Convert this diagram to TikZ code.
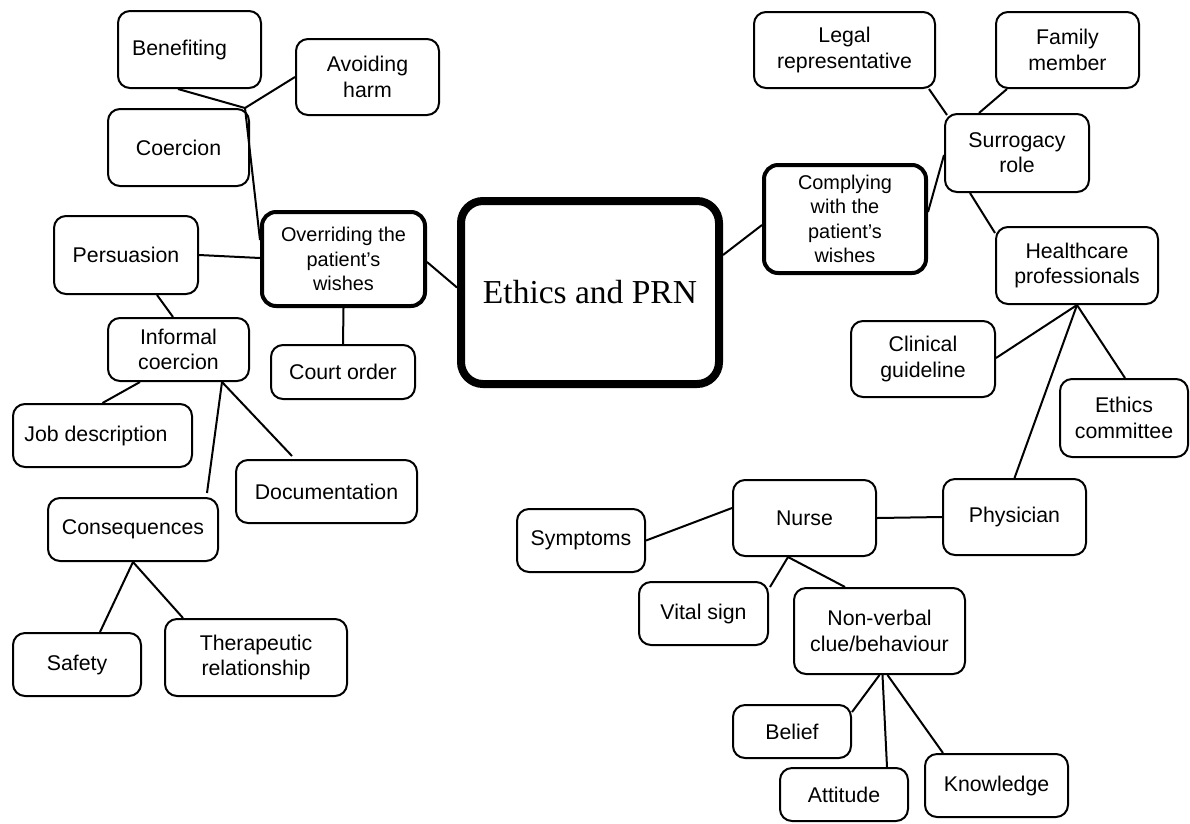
\documentclass[tikz,border=0pt]{standalone}
\usepackage{fontspec}
\setmainfont{Liberation Sans}
\newfontfamily\serifrm{Liberation Serif}
\usetikzlibrary{calc}
\begin{document}
\begin{tikzpicture}[x=1pt,y=-1pt,
  box/.style={draw, line width=2pt, rounded corners=12pt, align=center, inner sep=0pt,
    font=\fontsize{21.3}{25.3}\selectfont},
  boldbox/.style={box, line width=4pt, rounded corners=14pt, font=\fontsize{19.9}{24.3}\selectfont},
  hubbox/.style={draw, line width=8pt, rounded corners=22pt, align=center, inner sep=0pt,
    font=\serifrm\fontsize{33.5}{38}\selectfont},
  link/.style={line width=2pt}]
\useasboundingbox (0,0) rectangle (1190,823);
\fill[white] (0,0) rectangle (1190,823);

% ---- centre
\node[hubbox, minimum width=258pt, minimum height=183pt] (ethics) at (590,292.5) {Ethics and PRN};

% ---- left branch
\node[boldbox, minimum width=163pt, minimum height=94pt] (overr) at (343.5,259) {Overriding the\\patient's\\wishes};
\node[box, minimum width=143pt, minimum height=77pt] (benef) at (189.5,49.5) {Benefiting\hspace*{20pt}};
\node[box, minimum width=143pt, minimum height=76pt] (avoid) at (367.5,77) {Avoiding\\harm};
\node[box, minimum width=141pt, minimum height=77pt] (coerc) at (178.5,147.5) {Coercion};
\node[box, minimum width=144pt, minimum height=78pt] (persu) at (126,255) {Persuasion};
\node[box, minimum width=141pt, minimum height=63pt] (infor) at (178.5,349.5) {Informal\\coercion};
\node[box, minimum width=144pt, minimum height=54pt] (court) at (343,372) {Court order};
\node[box, minimum width=179pt, minimum height=63pt] (jobd) at (102.5,435.5) {Job description\hspace*{13pt}};
\node[box, minimum width=181pt, minimum height=63pt] (docu) at (326.5,491.5) {Documentation};
\node[box, minimum width=170pt, minimum height=63pt] (conse) at (133,529.5) {Consequences};
\node[box, minimum width=128pt, minimum height=63pt] (safety) at (77,664.5) {Safety};
\node[box, minimum width=182pt, minimum height=77pt] (thera) at (256,657.5) {Therapeutic\\relationship};

% ---- right branch
\node[boldbox, minimum width=162pt, minimum height=108pt] (compl) at (845,219) {Complying\\with the\\patient's\\wishes};
\node[box, minimum width=181pt, minimum height=76pt] (legal) at (844.5,50) {Legal\\representative};
\node[box, minimum width=143pt, minimum height=76pt] (family) at (1067.5,50) {Family\\member};
\node[box, minimum width=144pt, minimum height=78pt] (surro) at (1017,153) {Surrogacy\\role};
\node[box, minimum width=162pt, minimum height=77pt] (health) at (1077,265.5) {Healthcare\\professionals};
\node[box, minimum width=144pt, minimum height=76pt] (clini) at (923,359) {Clinical\\guideline};
\node[box, minimum width=128pt, minimum height=78pt] (ethcom) at (1124,418) {Ethics\\committee};
\node[box, minimum width=143pt, minimum height=76pt] (physi) at (1014.5,517) {Physician};
\node[box, minimum width=143pt, minimum height=76pt] (nurse) at (804.5,518) {Nurse};
\node[box, minimum width=128pt, minimum height=63pt] (symp) at (581,540.5) {Symptoms};
\node[box, minimum width=129pt, minimum height=63pt] (vital) at (703.5,613.5) {Vital sign};
\node[box, minimum width=171pt, minimum height=86pt] (nonv) at (879.5,631) {Non-verbal\\clue/behaviour};
\node[box, minimum width=118pt, minimum height=53pt] (belief) at (792,731.5) {Belief};
\node[box, minimum width=128pt, minimum height=53pt] (attit) at (844,794.5) {Attitude};
\node[box, minimum width=143pt, minimum height=63pt] (know) at (996.5,785.5) {Knowledge};

% ---- connectors, left
\coordinate (j1) at ($(coerc.north east)+(-5,0)$);
\draw[link] ($(benef.south)+(-11.5,0)$) -- (j1);
\draw[link] (avoid.west) -- (j1);
\draw[link] (j1) -- ($(overr.west)+(0,-19)$);
\draw[link] (persu.east) -- ($(overr.west)+(0,-1)$);
\draw[link] ($(persu.south)+(31,0)$) -- ($(infor.north)+(-5.5,0)$);
\draw[link] (overr.south) -- (court.north);
\draw[link] ($(overr.east)+(0,3)$) -- ($(ethics.west)+(0,-5)$);
\draw[link] ($(infor.south)+(-38.5,0)$) -- (jobd.north);
\draw[link] ($(infor.south)+(43.5,0)$) -- ($(conse.north)+(74,-4)$);
\draw[link] ($(infor.south)+(43.5,0)$) -- ($(docu.north)+(-34.5,-3)$);
\draw[link] (conse.south) -- ($(safety.north)+(23,0)$);
\draw[link] (conse.south) -- ($(thera.north)+(-73,0)$);

% ---- connectors, right
\draw[link] ($(ethics.east)+(0,-37.5)$) -- ($(compl.west)+(0,6)$);
\draw[link] ($(compl.east)+(0,-7)$) -- ($(surro.west)+(0,2)$);
\draw[link] ($(legal.south east)+(-7,0)$) -- ($(surro.north west)+(3,2)$);
\draw[link] ($(family.south west)+(12,0)$) -- ($(surro.north)+(-38,0)$);
\draw[link] ($(surro.south)+(-47,0)$) -- ($(health.north west)+(0,7)$);
\draw[link] (health.south) -- ($(clini.east)+(0,-1)$);
\draw[link] (health.south) -- ($(ethcom.north)+(1,0)$);
\draw[link] (health.south) -- (physi.north);
\draw[link] (nurse.east) -- (physi.west);
\draw[link] (symp.east) -- ($(nurse.west)+(0,-10)$);
\draw[link] ($(nurse.south)+(-16.5,0)$) -- ($(vital.north east)+(1,6)$);
\draw[link] ($(nurse.south)+(-16.5,0)$) -- ($(nonv.north)+(-34.5,0)$);
\draw[link] (nonv.south) -- ($(belief.north east)+(0,8)$);
\draw[link] ($(nonv.south)+(3,0)$) -- ($(attit.north)+(43,0)$);
\draw[link] ($(nonv.south)+(8,0)$) -- ($(know.north west)+(19,0)$);
\end{tikzpicture}
\end{document}
